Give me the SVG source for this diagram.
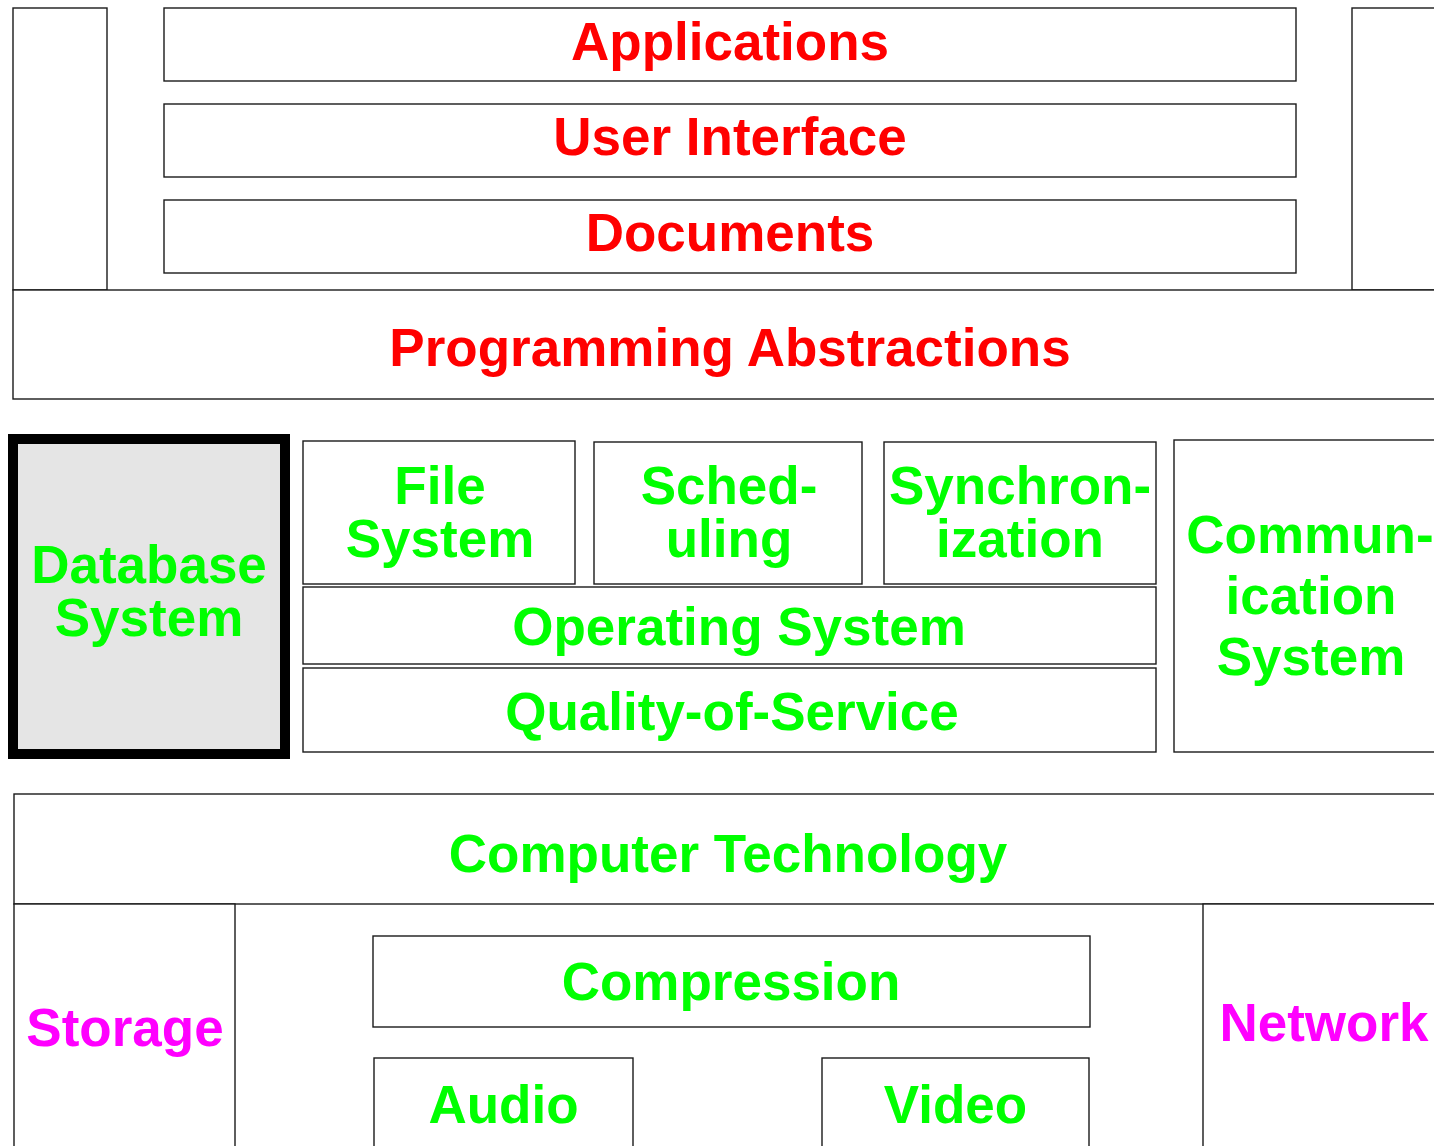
<svg xmlns="http://www.w3.org/2000/svg" width="1434" height="1146" viewBox="0 0 1434 1146">
  <style>
    .box { fill: #ffffff; stroke: #1a1a1a; stroke-width: 1.4; }
    .db { fill: #e5e5e5; stroke: #000000; stroke-width: 10; }
    text { font-family: "Liberation Sans", Arial, sans-serif; font-weight: bold; font-size: 53px; text-anchor: middle; }
    .red { fill: #ff0000; }
    .green { fill: #00ff00; }
    .mag { fill: #ff00ff; }
  </style>
  <rect width="1434" height="1146" fill="#ffffff"/>

  <!-- upper application layers -->
  <g id="side-left"><rect class="box" x="13" y="8" width="94" height="282"/></g>
  <g id="side-right"><rect class="box" x="1352" y="8" width="100" height="282"/></g>
  <g id="applications">
    <rect class="box" x="164" y="8" width="1132" height="73"/>
    <text class="red" x="730" y="60">Applications</text>
  </g>
  <g id="user-interface">
    <rect class="box" x="164" y="104" width="1132" height="73"/>
    <text class="red" x="730" y="155">User Interface</text>
  </g>
  <g id="documents">
    <rect class="box" x="164" y="200" width="1132" height="73"/>
    <text class="red" x="730" y="251">Documents</text>
  </g>
  <g id="programming-abstractions">
    <rect class="box" x="13" y="290" width="1440" height="109"/>
    <text class="red" x="730" y="366">Programming Abstractions</text>
  </g>

  <!-- system services -->
  <g id="database-system">
    <rect class="db" x="13" y="439" width="272" height="315"/>
    <text class="green" x="149" y="583">Database</text>
    <text class="green" x="149" y="636">System</text>
  </g>
  <g id="file-system">
    <rect class="box" x="303" y="441" width="272" height="143"/>
    <text class="green" x="440" y="504">File</text>
    <text class="green" x="440" y="557">System</text>
  </g>
  <g id="scheduling">
    <rect class="box" x="594" y="442" width="268" height="142"/>
    <text class="green" x="729" y="504">Sched-</text>
    <text class="green" x="729" y="557">uling</text>
  </g>
  <g id="synchronization">
    <rect class="box" x="884" y="442" width="272" height="142"/>
    <text class="green" x="1020" y="504">Synchron-</text>
    <text class="green" x="1020" y="557">ization</text>
  </g>
  <g id="operating-system">
    <rect class="box" x="303" y="587" width="853" height="77"/>
    <text class="green" x="739" y="645">Operating System</text>
  </g>
  <g id="quality-of-service">
    <rect class="box" x="303" y="668" width="853" height="84"/>
    <text class="green" x="732" y="730">Quality-of-Service</text>
  </g>
  <g id="communication-system">
    <rect class="box" x="1174" y="440" width="280" height="312"/>
    <text class="green" x="1310" y="553">Commun-</text>
    <text class="green" x="1311" y="614">ication</text>
    <text class="green" x="1311" y="675">System</text>
  </g>

  <!-- technology base -->
  <g id="computer-technology">
    <rect class="box" x="14" y="794" width="1440" height="110"/>
    <text class="green" x="728" y="872">Computer Technology</text>
  </g>
  <g id="storage">
    <rect class="box" x="14" y="904" width="221" height="260"/>
    <text class="mag" x="125" y="1046">Storage</text>
  </g>
  <g id="network">
    <rect class="box" x="1203" y="904" width="260" height="260"/>
    <text class="mag" x="1324" y="1041">Network</text>
  </g>
  <g id="compression">
    <rect class="box" x="373" y="936" width="717" height="91"/>
    <text class="green" x="731" y="1000">Compression</text>
  </g>
  <g id="audio">
    <rect class="box" x="374" y="1058" width="259" height="110"/>
    <text class="green" x="503.5" y="1123">Audio</text>
  </g>
  <g id="video">
    <rect class="box" x="822" y="1058" width="267" height="110"/>
    <text class="green" x="955.5" y="1123">Video</text>
  </g>

  <g id="connectors"></g>
</svg>
